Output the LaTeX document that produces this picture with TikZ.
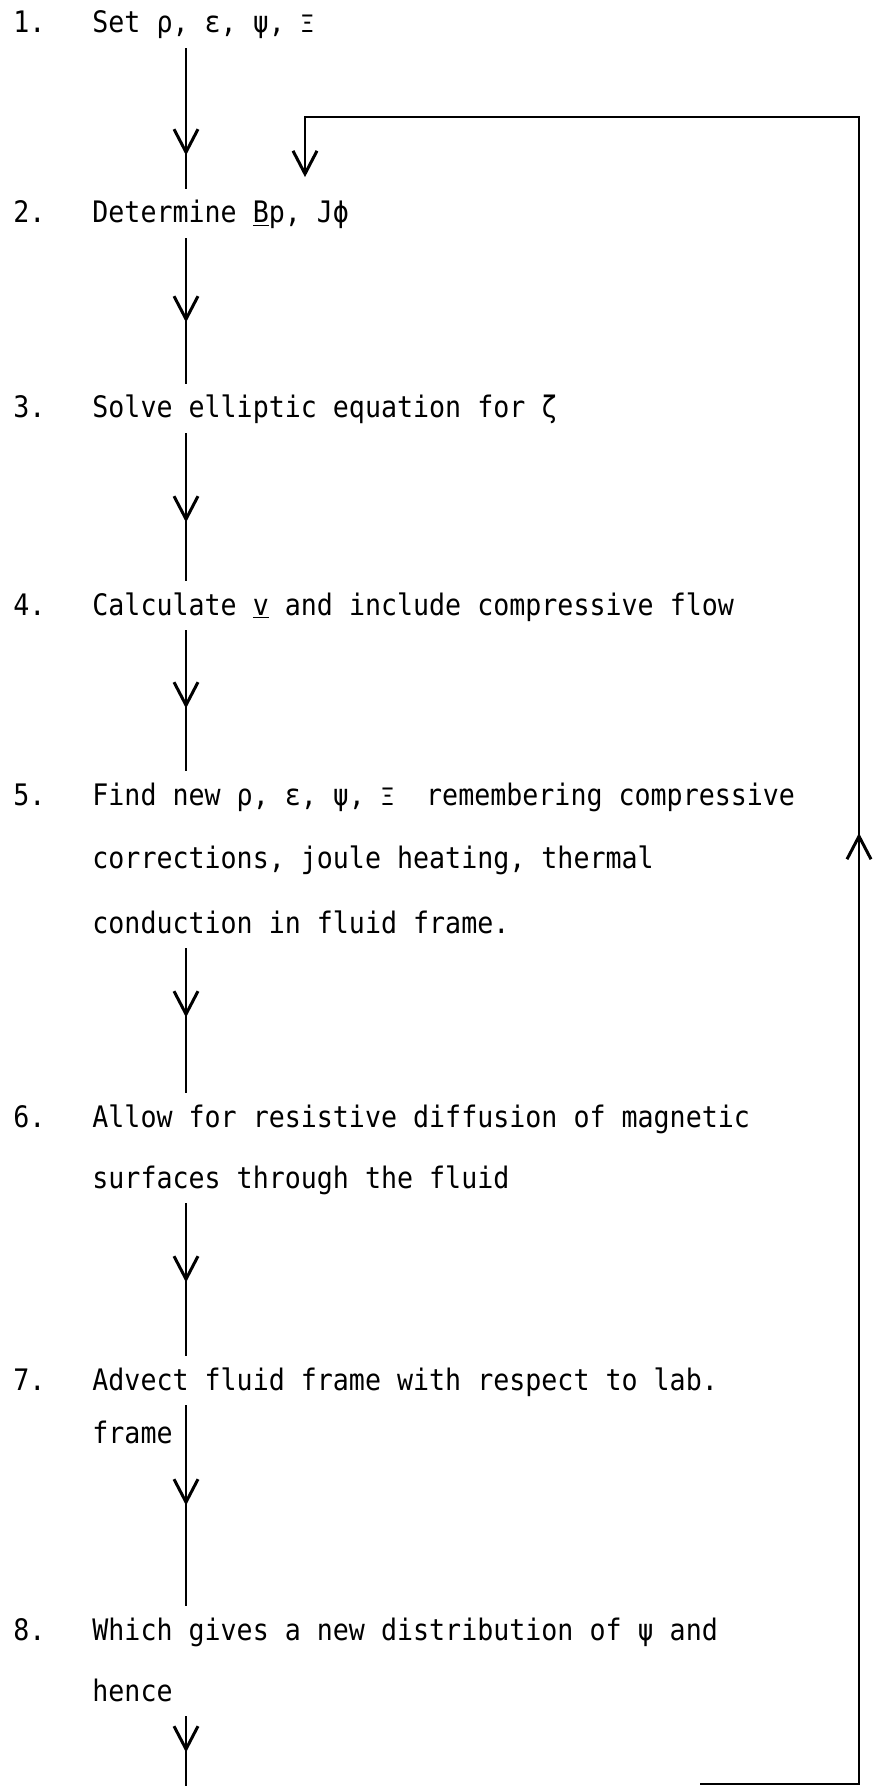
\documentclass[tikz,border=0pt]{standalone}
\usepackage{fontspec}
\usepackage{tikz}
\usetikzlibrary{arrows.meta,decorations.markings}
\newfontfamily\typer[FakeStretch=0.9]{DejaVu Sans Mono}
\tikzset{vtip/.tip={Straight Barb[length=11.5pt,width=12pt,line width=1.5pt]}}
\frenchspacing

\begin{document}
\begin{tikzpicture}[
    x=0.5pt, y=-0.5pt,
    font={\typer\fontsize{14.8pt}{32pt}\selectfont},
    num/.style={anchor=base west, inner sep=0pt},
    stepline/.style={anchor=base west, inner xsep=0pt, inner ysep=6pt,
                text height=10.75pt, text depth=1.5pt},
    flow/.style={line width=1pt,
                decoration={markings, mark=at position #1 with {\arrow{vtip}}},
                postaction={decorate}},
    loopback/.style={line width=1.3pt, -{vtip}, shorten >=6pt,
                decoration={markings, mark=at position 555pt with {\arrow{vtip}}},
                postaction={decorate}}
  ]
    \useasboundingbox (0,0) rectangle (874,1786);
    \coordinate (spine) at (186,0);
    \coordinate (entry) at (305,0);
    \coordinate (rtop)   at (859,117);
    \coordinate (lstart) at (700,1784);
    \coordinate (bottom) at (186,1786);

    % step numbers
    \node[num] (n1) at (13,33)   {1.};
    \node[num] (n2) at (13,223)  {2.};
    \node[num] (n3) at (13,418)  {3.};
    \node[num] (n4) at (13,615)  {4.};
    \node[num] (n5) at (13,805)  {5.};
    \node[num] (n6) at (13,1127) {6.};
    \node[num] (n7) at (13,1390) {7.};
    \node[num] (n8) at (13,1640) {8.};

    % step texts
    \node[stepline] (t1)  at (92,33)   {Set ρ, ε, ψ, {\fontsize{12pt}{12pt}\selectfont Ξ}};
    \node[stepline] (t2)  at (92,223)  {Determine \underline{B}p, Jϕ};
    \node[stepline] (t3)  at (92,418)  {Solve elliptic equation for ζ};
    \node[stepline] (t4)  at (92,615)  {Calculate \underline{v} and include compressive flow};
    \node[stepline] (t5a) at (92,805)  {Find new ρ, ε, ψ, {\fontsize{12pt}{12pt}\selectfont Ξ}~~remembering compressive};
    \node[stepline] (t5b) at (92,868)  {corrections, joule heating, thermal};
    \node[stepline] (t5c) at (92,933)  {conduction in fluid frame.};
    \node[stepline] (t6a) at (92,1127) {Allow for resistive diffusion of magnetic};
    \node[stepline] (t6b) at (92,1188) {surfaces through the fluid};
    \node[stepline] (t7a) at (92,1390) {Advect fluid frame with respect to lab.};
    \node[stepline] (t7b) at (92,1443) {frame};
    \node[stepline] (t8a) at (92,1640) {Which gives a new distribution of ψ and};
    \node[stepline] (t8b) at (92,1701) {hence};

    % main sequence
    \draw[flow=53.5pt] (t1.south -| spine)  -- (t2.north -| spine);
    \draw[flow=42pt]   (t2.south -| spine)  -- (t3.north -| spine);
    \draw[flow=44.5pt] (t3.south -| spine)  -- (t4.north -| spine);
    \draw[flow=39pt]   (t4.south -| spine)  -- (t5a.north -| spine);
    \draw[flow=34.5pt] (t5c.south -| spine) -- (t6a.north -| spine);
    \draw[flow=39.5pt] (t6b.south -| spine) -- (t7a.north -| spine);
    \draw[flow=50pt]   (t7a.south -| spine) -- (t8a.north -| spine);
    \draw[flow=18pt]   (t8b.south -| spine) -- (bottom);

    % return loop
    \draw[loopback] (lstart) -| (rtop) -| (t2.north -| entry);
\end{tikzpicture}
\end{document}
